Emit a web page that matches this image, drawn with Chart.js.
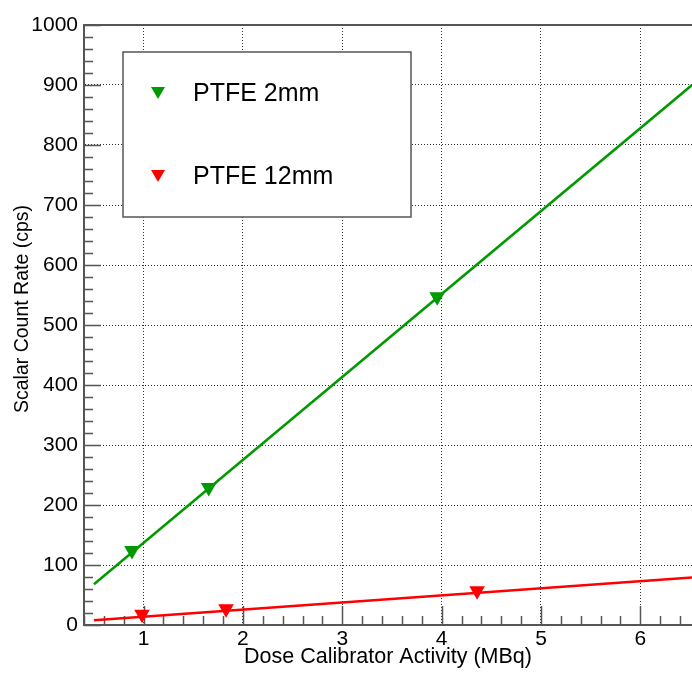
<!DOCTYPE html>
<html>
<head>
<meta charset="utf-8">
<script src="https://cdn.jsdelivr.net/npm/chart.js@4.4.0/dist/chart.umd.min.js"></script>
<style>
  body { margin: 0; background: #fff; }
  #wrap { width: 692px; height: 674px; }
</style>
</head>
<body>
<div id="wrap"><canvas id="grafica" width="692" height="674"></canvas></div>
<script>
// values
const xTicks = [1, 2, 3, 4, 5, 6];
const yTicks = [0, 100, 200, 300, 400, 500, 600, 700, 800, 900, 1000];

const labels = ['PTFE 2mm', 'PTFE 12mm'];
const thinX = [0.883, 1.655, 3.955];
const thinY = [124, 229, 547];
const thickX = [0.984, 1.83, 4.357];
const thickY = [18, 27, 57];

// linear fit lines, end points
const fitX = [0.5, 6.52];
const thinFitY = [68, 900];
const thickFitY = [8, 79];

const yTitle = 'Scalar Count Rate (cps)';

const green = '#009a00';
const red = '#ff0000';
const axisGrey = '#555555';
const fontFam = '"Liberation Sans", Arial, Helvetica, sans-serif';

function pts(xs, ys) {
  return xs.map((x, i) => ({ x: x, y: ys[i] }));
}

// inward tick marks, top frame line, y title and the boxed legend
const rootStyle = {
  id: 'rootStyle',
  beforeDatasetsDraw(chart) {
    const ctx = chart.ctx;
    const a = chart.chartArea;
    const xs = chart.scales.x, ys = chart.scales.y;
    ctx.save();
    ctx.strokeStyle = axisGrey;
    ctx.lineWidth = 1.5;
    ctx.beginPath();
    for (let v = 0; v <= 1000; v += 20) {
      const py = Math.round(ys.getPixelForValue(v)) + 0.5;
      const len = v % 100 === 0 ? 17 : 9;
      ctx.moveTo(a.left, py);
      ctx.lineTo(a.left + len, py);
    }
    for (let k = 2; k <= 32; k++) {
      const v = k / 5;
      const px = Math.round(xs.getPixelForValue(v)) + 0.5;
      if (px > a.right) break;
      const len = k % 5 === 0 ? 19 : 9;
      ctx.moveTo(px, a.bottom);
      ctx.lineTo(px, a.bottom - len);
    }
    ctx.stroke();
    ctx.lineWidth = 2;
    ctx.beginPath();
    ctx.moveTo(a.left, a.top);
    ctx.lineTo(a.right, a.top);
    ctx.stroke();

    // y title sits a bit above the axis centre, like the original
    ctx.translate(23, 309);
    ctx.rotate(-Math.PI / 2);
    ctx.fillStyle = '#000';
    ctx.font = '19.5px ' + fontFam;
    ctx.textAlign = 'center';
    ctx.textBaseline = 'middle';
    ctx.fillText(yTitle, 0, 0);
    ctx.restore();
  },
  afterDatasetsDraw(chart) {
    const ctx = chart.ctx;
    const box = { x: 123, y: 52, w: 288, h: 165 };
    ctx.save();
    ctx.fillStyle = '#fff';
    ctx.fillRect(box.x, box.y, box.w, box.h);
    ctx.strokeStyle = axisGrey;
    ctx.lineWidth = 1.5;
    ctx.strokeRect(box.x, box.y, box.w, box.h);
    const rowsY = [92, 175];
    [0, 1].forEach(i => {
      const ds = chart.data.datasets[i];
      const cx = 158, cy = rowsY[i];
      ctx.fillStyle = ds.backgroundColor;
      ctx.beginPath();
      ctx.moveTo(cx - 7, cy - 5);
      ctx.lineTo(cx + 7, cy - 5);
      ctx.lineTo(cx, cy + 7);
      ctx.closePath();
      ctx.fill();
      ctx.fillStyle = '#000';
      ctx.font = '25px ' + fontFam;
      ctx.textBaseline = 'middle';
      ctx.fillText(ds.label, 193, cy + 2);
    });
    ctx.restore();
  }
};

new Chart(document.getElementById('grafica'), {
  type: 'scatter',
  data: {
    datasets: [
      {
        label: labels[0],
        data: pts(thinX, thinY),
        backgroundColor: green,
        borderColor: green,
        pointStyle: 'triangle',
        rotation: 180,
        pointRadius: 9,
        borderWidth: 0
      },
      {
        label: labels[1],
        data: pts(thickX, thickY),
        backgroundColor: red,
        borderColor: red,
        pointStyle: 'triangle',
        rotation: 180,
        pointRadius: 9,
        borderWidth: 0
      },
      {
        label: 'fit 2mm',
        data: pts(fitX, thinFitY),
        showLine: true,
        borderColor: green,
        borderWidth: 2.5,
        pointRadius: 0
      },
      {
        label: 'fit 12mm',
        data: pts(fitX, thickFitY),
        showLine: true,
        borderColor: red,
        borderWidth: 2.5,
        pointRadius: 0
      }
    ]
  },
  options: {
    responsive: false,
    animation: false,
    layout: { autoPadding: false, padding: { top: 25, right: 0, left: 0, bottom: 0 } },
    plugins: {
      legend: { display: false },
      tooltip: { enabled: false }
    },
    scales: {
      x: {
        type: 'linear',
        min: 0.4,
        max: 6.52,
        afterBuildTicks: s => { s.ticks = xTicks.map(v => ({ value: v })); },
        afterFit: s => { s.height = 49; s.paddingRight = 0; s.paddingLeft = 0; },
        grid: { color: '#333', lineWidth: 1, drawTicks: false },
        border: { color: axisGrey, width: 2, dash: [1, 2] },
        ticks: {
          color: '#000',
          font: { family: fontFam, size: 21 },
          padding: 2,
          callback: v => String(v)
        },
        title: {
          display: true,
          text: 'Dose Calibrator Activity (MBq)',
          color: '#000',
          font: { family: fontFam, size: 21.5 },
          padding: { top: 0, bottom: 4 }
        }
      },
      y: {
        min: 0,
        max: 1000,
        afterBuildTicks: s => { s.ticks = yTicks.map(v => ({ value: v })); },
        afterFit: s => { s.width = 84; s.paddingTop = 0; s.paddingBottom = 0; },
        grid: { color: '#333', lineWidth: 1, drawTicks: false },
        border: { color: axisGrey, width: 2, dash: [1, 2] },
        ticks: {
          color: '#000',
          font: { family: fontFam, size: 21 },
          padding: 6,
          callback: v => String(v)
        },
        title: { display: false }
      }
    }
  },
  plugins: [rootStyle]
});
</script>
</body>
</html>
